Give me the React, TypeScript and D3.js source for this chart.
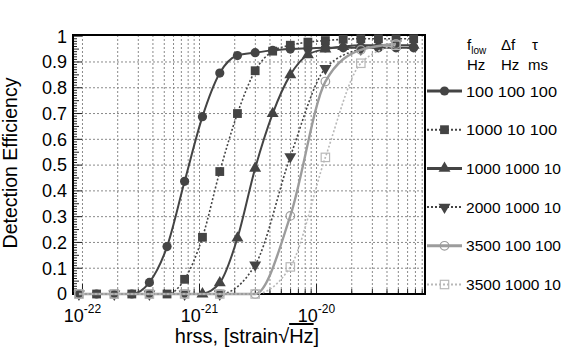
import React from "react";
import * as d3 from "d3";

// hrss sample points (strain/rtHz)
const hrss = [
  9.33e-23, 1.32e-22, 1.87e-22, 2.64e-22, 3.73e-22, 5.28e-22, 7.46e-22, 1.06e-21, 1.49e-21, 2.11e-21,
  2.99e-21, 4.22e-21, 5.97e-21, 8.44e-21, 1.19e-20, 1.69e-20, 2.39e-20, 3.38e-20, 4.78e-20, 6.76e-20,
];

// detection efficiency per waveform (null = no point at that hrss)
const eff100_100_100 = [0, 0, 0, 0, 0.045, 0.184, 0.437, 0.688, 0.857, 0.925, 0.936, 0.945, 0.95, 0.953, 0.955, 0.955, 0.955, 0.955, 0.955, 0.955];
const eff1000_10_100 = [0, 0, 0, 0, 0, 0, 0.057, 0.22, 0.475, 0.7, 0.866, 0.942, 0.965, 0.977, 0.983, 0.988, 0.99, 0.99, 0.99, 0.99];
const eff1000_1000_10 = [null, null, null, null, null, null, null, 0, 0.043, 0.217, 0.488, 0.7, 0.85, 0.928, 0.95, 0.96, 0.965, 0.965, 0.965, 0.965];
const eff2000_1000_10 = [0, null, 0, null, 0, null, 0, null, 0, null, 0.113, null, 0.533, null, 0.875, null, 0.95, null, 0.97, null];
const eff3500_100_100 = [0, null, 0, null, 0, null, 0, null, 0, null, 0, null, 0.303, null, 0.824, null, 0.947, null, 0.97, null];
const eff3500_1000_10 = [0, null, 0, null, 0, null, 0, null, 0, null, 0, null, 0.105, null, 0.53, null, 0.895, null, 0.965, null];

const legendLabels = ["100 100 100", "1000 10 100", "1000 1000 10", "2000 1000 10", "3500 100 100", "3500 1000 10"];
const yTicks = [0, 0.1, 0.2, 0.3, 0.4, 0.5, 0.6, 0.7, 0.8, 0.9, 1];
const xDecades = [-22, -21, -20];

const dark = "#444444";
const mid = "#9c9c9c";
const light = "#b8b8b8";

const series = [
  { values: eff100_100_100, color: dark, dash: null, marker: "circle", open: false },
  { values: eff1000_10_100, color: dark, dash: "2,2", marker: "square", open: false },
  { values: eff1000_1000_10, color: dark, dash: null, marker: "up", open: false },
  { values: eff2000_1000_10, color: dark, dash: "2,2", marker: "down", open: false },
  { values: eff3500_100_100, color: mid, dash: null, marker: "circle", open: true },
  { values: eff3500_1000_10, color: light, dash: "2,2", marker: "square", open: true },
];

const font = "'Liberation Sans', Arial, Helvetica, sans-serif";

function Marker({ kind, x, y, color, open }) {
  const fill = open ? "none" : color;
  const sw = open ? 1.2 : 0;
  if (kind === "circle") return <circle cx={x} cy={y} r={open ? 4.3 : 4.6} fill={fill} stroke={color} strokeWidth={sw} />;
  if (kind === "square") {
    const s = open ? 8.4 : 8.8;
    return <rect x={x - s / 2} y={y - s / 2} width={s} height={s} fill={fill} stroke={color} strokeWidth={sw} />;
  }
  const path = d3.symbol(d3.symbolTriangle, 62)();
  const rot = kind === "down" ? 180 : 0;
  return <path d={path} transform={`translate(${x},${y}) rotate(${rot})`} fill={fill} stroke={color} strokeWidth={sw} />;
}

export default function App() {
  const left = 73, right = 425, top = 35, bottom = 294;
  const x = d3.scaleLog().domain([8.3e-23, 8.45e-20]).range([left, right]);
  const y = d3.scaleLinear().domain([0, 1]).range([bottom, 36.2]);

  const xGrid = [];
  xDecades.forEach((e) => {
    for (let m = 1; m <= 9; m++) {
      const v = m * Math.pow(10, e);
      if (x(v) > left + 1 && x(v) < right - 1) xGrid.push({ v, major: m === 1 });
    }
  });
  const yMinor = d3.range(0, 101).map((i) => i / 100);

  const line = d3.line().x((d) => x(d[0])).y((d) => y(d[1])).curve(d3.curveMonotoneX);

  return (
    <div style={{ position: "fixed", left: 0, top: 0 }}>
      <svg width={567} height={354} style={{ display: "block", background: "#fff" }} fontFamily={font}>
        {/* grid */}
        {xGrid.map((g, i) => (
          <line key={"gx" + i} x1={x(g.v)} x2={x(g.v)} y1={top} y2={bottom} stroke="#8a8a8a" strokeWidth={1} strokeDasharray="2,2" />
        ))}
        {yTicks.slice(1, -1).map((t) => (
          <line key={"gy" + t} x1={left} x2={right} y1={y(t)} y2={y(t)} stroke="#8a8a8a" strokeWidth={1} strokeDasharray="2,2" />
        ))}

        {/* ticks */}
        {yMinor.map((t, i) => (
          <line key={"ym" + i} x1={left} x2={left + (i % 10 === 0 ? 9 : i % 5 === 0 ? 6 : 4)} y1={y(t)} y2={y(t)} stroke="#222" strokeWidth={1} />
        ))}
        {xGrid.map((g, i) => (
          <line key={"xt" + i} x1={x(g.v)} x2={x(g.v)} y1={bottom} y2={bottom - (g.major ? 10 : 5)} stroke="#222" strokeWidth={1} />
        ))}

        <rect x={left} y={top} width={right - left} height={bottom - top} fill="none" stroke="#000" strokeWidth={2} />

        {/* curves and markers */}
        {series.map((s, si) => {
          const pts = hrss.map((h, i) => [h, s.values[i]]).filter((p) => p[1] != null);
          return (
            <g key={"s" + si}>
              <path d={line(pts)} fill="none" stroke={s.color} strokeWidth={s.dash ? 1.6 : si === 4 ? 2.4 : 2} strokeDasharray={s.dash || undefined} />
              {pts.map((p, i) => (
                <Marker key={i} kind={s.marker} x={x(p[0])} y={y(p[1])} color={s.color} open={s.open} />
              ))}
            </g>
          );
        })}

        {/* y tick labels */}
        {yTicks.map((t) => (
          <text key={"yl" + t} x={67} y={y(t)} dy="0.35em" textAnchor="end" fontSize={18}>
            {t === 0 ? "0" : t === 1 ? "1" : t.toFixed(1)}
          </text>
        ))}
        {/* x tick labels */}
        {xDecades.map((e) => (
          <text key={"xl" + e} x={x(Math.pow(10, e))} y={322} textAnchor="middle" fontSize={18}>
            10
            <tspan dy={-9} fontSize={12}>{e}</tspan>
          </text>
        ))}

        {/* axis titles */}
        <text x={247} y={343} textAnchor="middle" fontSize={20}>
          hrss, [strain√<tspan style={{ textDecoration: "overline" }}>Hz</tspan>]
        </text>
        <text transform="translate(17,163) rotate(-90)" textAnchor="middle" fontSize={19.5}>
          Detection Efficiency
        </text>

        {/* legend */}
        <g fontSize={15}>
          <text x={467} y={50}>
            f<tspan dy={4} fontSize={10}>low</tspan>
          </text>
          <text x={501} y={50}>Δf</text>
          <text x={532} y={50}>τ</text>
          <text x={467} y={70}>Hz</text>
          <text x={501} y={70}>Hz</text>
          <text x={528} y={70}>ms</text>
          {series.map((s, i) => {
            const ly = 91 + i * 38.7;
            return (
              <g key={"lg" + i}>
                <line x1={427} x2={462} y1={ly} y2={ly} stroke={s.color} strokeWidth={s.dash ? 2 : 3} strokeDasharray={s.dash || undefined} />
                <Marker kind={s.marker} x={444.5} y={ly} color={s.color} open={s.open} />
                <text x={466} y={ly + 5.5} textLength={legendLabels[i].length > 11 ? 95 : 91} lengthAdjust="spacingAndGlyphs">
                  {legendLabels[i]}
                </text>
              </g>
            );
          })}
        </g>
      </svg>
    </div>
  );
}
